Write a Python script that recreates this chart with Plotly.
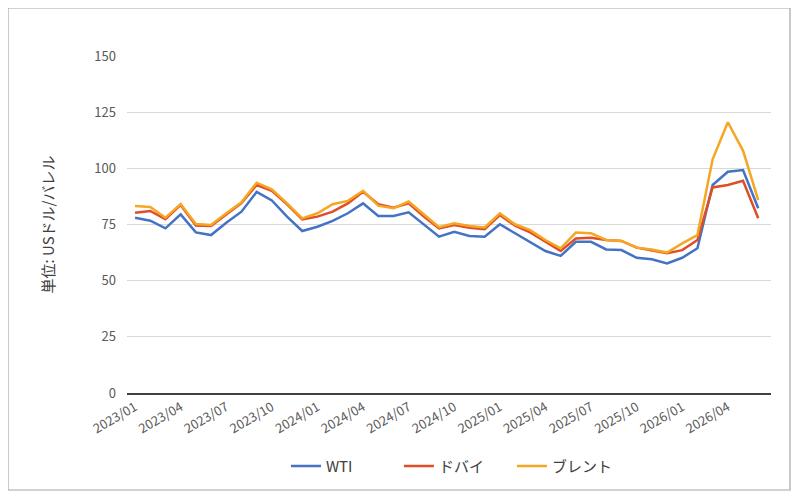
import plotly.graph_objects as go

# months 2023/01 .. 2026/06
months = [f"{y}/{m:02d}" for y in (2023, 2024, 2025, 2026) for m in range(1, 13)][:42]

wti = [78.0, 76.7, 73.3, 79.5, 71.5, 70.3, 75.8, 80.7, 89.5, 85.7, 78.5,
       72.1, 74.0, 76.6, 80.0, 84.4, 78.8, 78.8, 80.4, 74.8, 69.6,
       71.8, 69.9, 69.6, 75.1, 71.1, 67.3, 63.2, 61.0, 67.3, 67.3,
       63.9, 63.6, 60.2, 59.5, 57.7, 60.2, 64.4, 92.6, 98.5, 99.2, 82.2]
dubai = [80.2, 81.0, 77.4, 83.7, 74.5, 74.3, 79.5, 84.5, 92.6, 90.0, 84.0,
         77.3, 78.5, 80.7, 84.4, 89.6, 84.0, 82.5, 84.4, 78.5, 73.3,
         74.8, 73.6, 72.9, 79.2, 74.5, 71.5, 67.3, 63.2, 68.8, 69.1,
         68.1, 67.7, 64.7, 63.6, 62.2, 63.6, 68.1, 91.5, 92.6, 94.5, 77.8]
brent = [83.2, 82.8, 78.0, 84.1, 75.2, 74.8, 80.0, 84.9, 93.6, 90.7, 84.4,
         77.7, 80.0, 84.0, 85.5, 90.0, 83.4, 82.2, 85.2, 79.5, 73.8,
         75.5, 74.3, 73.7, 80.0, 75.1, 72.5, 68.1, 64.4, 71.4, 71.1,
         68.1, 67.7, 64.7, 63.9, 62.5, 66.6, 70.3, 104.0, 120.5, 107.9, 85.9]

tick_labels = months[::3][:14]

series = [("WTI", wti, "#4472C4"), ("ドバイ", dubai, "#DF4E26"), ("ブレント", brent, "#F5A623")]

fig = go.Figure()
for name, vals, color in series:
    fig.add_trace(go.Scatter(x=months, y=vals, name=name, mode="lines",
                             line=dict(color=color, width=2.5)))

# page body adds an 8px offset, so the figure is 8px smaller than the window
fig.update_layout(
    width=791, height=494,
    margin=dict(l=119, r=28, t=48, b=109),
    paper_bgcolor="white", plot_bgcolor="white",
    font=dict(family="Noto Sans CJK JP, Open Sans, sans-serif", size=13, color="#595959"),
    showlegend=True,
    legend=dict(orientation="h", x=0.51, xanchor="center", y=-0.217, yanchor="middle",
                entrywidth=68, entrywidthmode="pixels",
                font=dict(size=15, color="#404040")),
)

fig.update_xaxes(
    type="category", range=[-0.53, 41.84],
    tickmode="array", tickvals=tick_labels, ticktext=tick_labels,
    tickangle=-30, tickfont=dict(size=13, color="#595959"),
    showgrid=False, showline=True, linecolor="#404040", linewidth=1.5,
    ticks="",
)
fig.update_yaxes(
    range=[0, 150], dtick=25, tickfont=dict(size=13, color="#595959"),
    showgrid=True, gridcolor="#D9D9D9", gridwidth=1, zeroline=False,
    showline=False, ticks="", ticklabelstandoff=10,
    title=dict(text="単位: USドル/バレル", font=dict(size=15, color="#404040"), standoff=36),
)

# outer frame
fig.add_shape(type="rect", xref="paper", yref="paper",
              x0=-0.1848, x1=1.0295, y0=-0.2878, y1=1.1424,
              line=dict(color="#A6A6A6", width=1.2), layer="below")

fig.write_html("out.html")
